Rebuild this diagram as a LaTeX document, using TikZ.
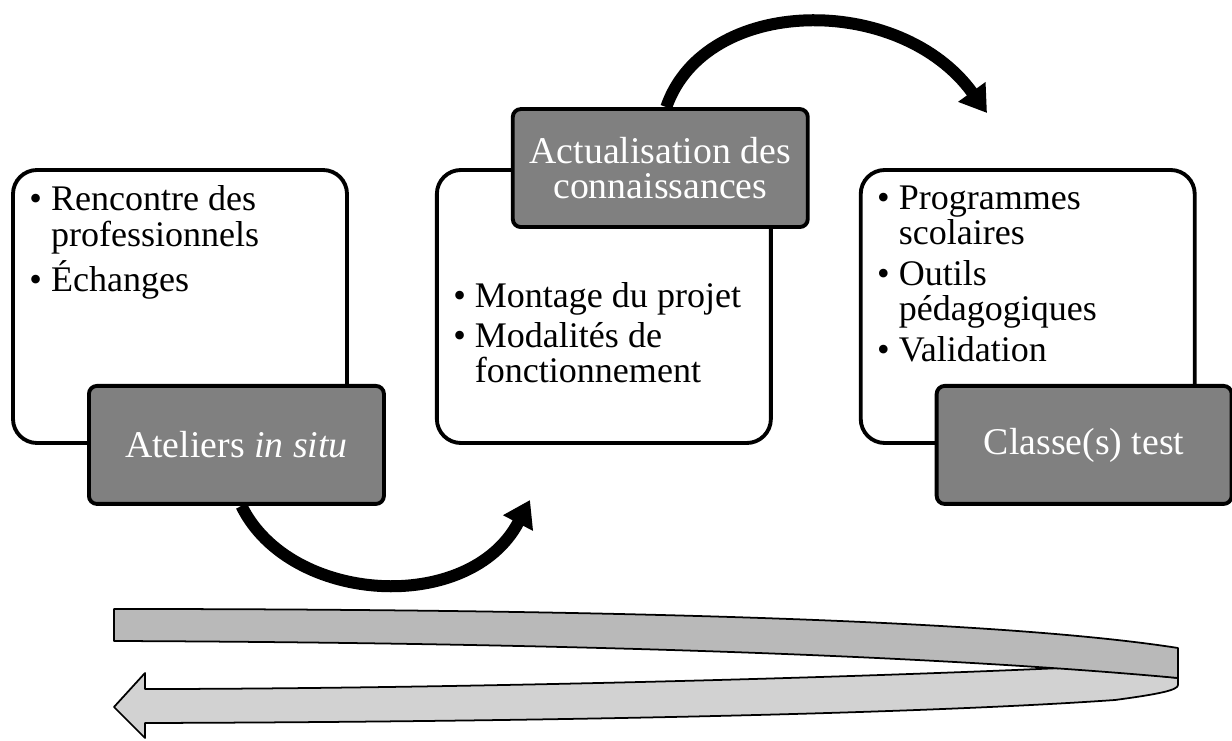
\documentclass[tikz,border=0pt]{standalone}
\usepackage{fontspec}
\setmainfont{Liberation Serif}
\usetikzlibrary{positioning,arrows.meta,backgrounds}
\tikzset{
	card/.style={draw,line width=2.2pt,rounded corners=0.48cm,fill=white,minimum width=6.68cm,minimum height=5.46cm,inner sep=0pt},
	tag/.style={draw,line width=2.2pt,rounded corners=0.16cm,fill=gray,text=white,minimum width=5.9cm,minimum height=2.36cm,inner sep=0pt,align=center,font=\fontsize{21.5}{20}\selectfont},
	items/.style={inner sep=0pt,font=\fontsize{20.5}{20}\selectfont},
	curvearrow/.style={line width=0.24cm,-{Triangle[length=0.52cm,width=0.64cm]}},
	band/.style={draw,line width=1pt,line join=round}
}
\begin{document}
\begin{tikzpicture}
	\useasboundingbox (0,0) rectangle (24.64,14.8);
	\node[card] (b1) at (3.6,8.67) {};
	\node[card,right=1.72cm of b1] (b2) {};
	\node[card,right=1.72cm of b2] (b3) {};
	\node[tag] (a1) at ([xshift=-2.25cm]b1.south east) {Ateliers \textit{in situ}};
	\node[tag] (a2) at ([xshift=-2.25cm]b2.north east) {Actualisation des\\connaissances};
	\node[tag] (a3) at ([xshift=-2.25cm]b3.south east) {Classe(s) test};
	\node[items,below right=0.34cm and 0.36cm of b1.north west] (t1) {\begin{tabular}{@{}l@{\hspace{0.25em}}l@{}}
		\textbullet & Rencontre des\\ & professionnels\\[2pt]
		\textbullet & Échanges
	\end{tabular}};
	\node[items,below right=2.29cm and 0.36cm of b2.north west] (t2) {\begin{tabular}{@{}l@{\hspace{0.25em}}l@{}}
		\textbullet & Montage du projet\\[2pt]
		\textbullet & Modalités de\\ & fonctionnement
	\end{tabular}};
	\node[items,below right=0.32cm and 0.36cm of b3.north west] (t3) {\begin{tabular}{@{}l@{\hspace{0.25em}}l@{}}
		\textbullet & Programmes\\ & scolaires\\[3pt]
		\textbullet & Outils\\ & pédagogiques\\[3pt]
		\textbullet & Validation
	\end{tabular}};
	\coordinate (e1) at (10.6,4.8);
	\coordinate (e2) at (19.74,12.54);
	\begin{scope}[on background layer]
		\draw[curvearrow] ([xshift=1mm]a1.south) .. controls (5.8,2.7) and (9.4,2.5) .. (e1);
		\draw[curvearrow] ([xshift=1.2mm]a2.north) .. controls (14.1,14.9) and (18,14.95) .. (e2);
	\end{scope}
	\draw[band,fill=gray!35] (21.68,1.46) .. controls (16,1.2) and (8,1.02) .. (2.9,1.02) -- (2.9,1.34) -- (2.28,0.66) -- (2.9,0.04) -- (2.9,0.34) .. controls (10,0.36) and (18,0.5) .. (22.3,0.8) .. controls (23.2,0.92) and (23.56,1) .. (23.56,1.1) -- (23.56,1.24) -- cycle;
	\draw[band,fill=gray!55] (2.28,2.62) .. controls (12,2.62) and (20,2.4) .. (23.56,1.84) -- (23.56,1.24) .. controls (18,1.75) and (10,1.95) .. (2.28,1.98) -- cycle;
\end{tikzpicture}
\end{document}
